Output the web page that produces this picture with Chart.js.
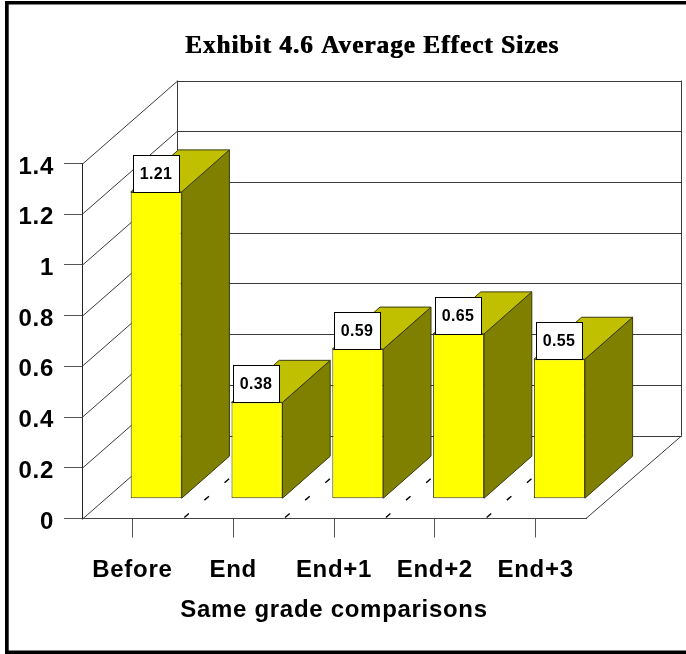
<!DOCTYPE html>
<html>
<head>
<meta charset="utf-8">
<style>html,body{margin:0;padding:0;background:#fff}#w{position:relative;width:686px;height:654px}</style>
<script src="https://cdn.jsdelivr.net/npm/chart.js@4"></script>
</head>
<body>
<div id="w"><canvas id="c"></canvas></div>
<script>
const categories = ['Before', 'End', 'End+1', 'End+2', 'End+3'];
const effectSizes = [1.21, 0.38, 0.59, 0.65, 0.55];
const valueLabels = ['1.21', '0.38', '0.59', '0.65', '0.55'];
const yTickLabels = ['0', '0.2', '0.4', '0.6', '0.8', '1', '1.2', '1.4'];
const chartTitle = 'Exhibit 4.6 Average Effect Sizes';
const xAxisTitle = 'Same grade comparisons';

const WALL = {dx: 96, dy: -83};
const BAR_SHIFT = {dx: 23.8, dy: -19.8};
const BAR_DEPTH = {dx: 47.7, dy: -42};
const SANS = '"Liberation Sans", Arial, sans-serif';

function seg(ctx, x1, y1, x2, y2) { ctx.beginPath(); ctx.moveTo(x1, y1); ctx.lineTo(x2, y2); ctx.stroke(); }
function poly(ctx, pts, fill, stroke) {
  ctx.beginPath(); pts.forEach((p, i) => i ? ctx.lineTo(p[0], p[1]) : ctx.moveTo(p[0], p[1])); ctx.closePath();
  ctx.fillStyle = fill; ctx.fill(); ctx.strokeStyle = stroke; ctx.lineWidth = 1; ctx.stroke();
}

const frame = {
  id: 'frame',
  beforeDraw(chart) {
    const c = chart.ctx; c.save(); c.fillStyle = '#000';
    c.fillRect(5, 1, chart.width - 5, 3.5);
    c.fillRect(5, 1, 3.7, chart.height - 1);
    c.fillRect(5, 650.5, chart.width - 5, 3.5);
    c.restore();
    c.letterSpacing = '0.7px';
  }
};

const box3d = {
  id: 'box3d',
  afterLayout(chart) {
    const tb = chart.titleBlock;
    tb.left += 79; tb.right += 79;
    if (!tb._wrapped) {
      const orig = tb.draw.bind(tb);
      tb.draw = function () {
        const c = chart.ctx; c.save();
        c.letterSpacing = '1.1px';
        c.shadowColor = '#000'; c.shadowOffsetX = 0.8; c.shadowBlur = 0;
        orig(); c.restore();
      };
      tb._wrapped = true;
    }
  },
  beforeDatasetsDraw(chart) {
    const c = chart.ctx, y = chart.scales.y, x = chart.scales.x;
    const L = x.left, R = x.right, y0 = y.getPixelForValue(0);
    c.save();
    c.lineWidth = 1; c.strokeStyle = '#3a3a3a';
    y.ticks.forEach(t => {
      const p = Math.round(y.getPixelForValue(t.value)) + 0.5;
      seg(c, L, p, L + WALL.dx - 1, p + WALL.dy);
      seg(c, L + WALL.dx - 1, p + WALL.dy, R + WALL.dx, p + WALL.dy);
    });
    const topY = y.getPixelForValue(1.4);
    seg(c, L + WALL.dx - .5, topY + WALL.dy, L + WALL.dx - .5, y0 + WALL.dy);
    seg(c, R + WALL.dx - .5, topY + WALL.dy, R + WALL.dx - .5, y0 + WALL.dy);
    seg(c, R, y0, R + WALL.dx, y0 + WALL.dy);
    c.strokeStyle = '#000'; c.lineWidth = 1.4; c.setLineDash([6, 20.6]);
    for (let i = 1; i < categories.length; i++) {
      const bx = (x.getPixelForTick(i - 1) + x.getPixelForTick(i)) / 2 + 1.5;
      seg(c, bx, y0 - 1, bx + WALL.dx, y0 - 1 + WALL.dy);
    }
    c.setLineDash([]);
    chart.getDatasetMeta(0).data.forEach(b => {
      const l = b.x - b.width / 2 + BAR_SHIFT.dx, r = b.x + b.width / 2 + BAR_SHIFT.dx;
      const t = b.y + BAR_SHIFT.dy, f = b.base + BAR_SHIFT.dy, d = BAR_DEPTH;
      poly(c, [[r, t], [r + d.dx, t + d.dy], [r + d.dx, f + d.dy], [r, f]], '#808000', '#3a3a10');
      poly(c, [[l, t], [l + d.dx, t + d.dy], [r + d.dx, t + d.dy], [r, t]], '#c0c000', '#3a3a10');
    });
    c.restore();
    c.save();
    c.translate(BAR_SHIFT.dx, BAR_SHIFT.dy);
  },
  afterDatasetsDraw(chart) {
    const c = chart.ctx;
    c.restore();
    c.save();
    chart.getDatasetMeta(0).data.forEach((b, i) => {
      const l = Math.round(b.x - b.width / 2 + BAR_SHIFT.dx + 2) + .5;
      const bot = Math.round(b.y + BAR_SHIFT.dy) + .5;
      c.fillStyle = '#fff'; c.strokeStyle = '#000'; c.lineWidth = 1;
      c.fillRect(l, bot - 37, 46, 37); c.strokeRect(l, bot - 37, 46, 37);
      c.fillStyle = '#000'; c.font = 'bold 16px ' + SANS;
      c.letterSpacing = '0.3px';
      c.textAlign = 'center'; c.textBaseline = 'middle';
      c.fillText(valueLabels[i], l + 22.5, bot - 18);
    });
    c.restore();
  }
};

new Chart(document.getElementById('c'), {
  type: 'bar',
  data: {
    labels: categories,
    datasets: [{
      data: effectSizes,
      backgroundColor: '#ffff00',
      borderColor: '#3a3a10',
      borderWidth: 1,
      borderSkipped: false,
      barPercentage: 0.506,
      categoryPercentage: 1,
      clip: false
    }]
  },
  options: {
    responsive: true,
    maintainAspectRatio: false,
    animation: false,
    layout: {padding: {left: 0, right: 100, top: 0, bottom: 0}},
    plugins: {
      legend: {display: false},
      tooltip: {enabled: false},
      title: {
        display: true,
        text: chartTitle,
        color: '#000',
        font: {family: '"Liberation Serif", "Times New Roman", serif', size: 25, weight: 'bold', lineHeight: 1.2},
        padding: {top: 32, bottom: 101.5}
      }
    },
    scales: {
      x: {
        afterFit: s => { s.height = 135.5; },
        grid: {drawOnChartArea: false, drawTicks: true, tickLength: 19, offset: false, color: '#555'},
        border: {display: true, color: '#444'},
        ticks: {
          color: '#000', autoSkip: false, maxRotation: 0, padding: 18,
          font: {family: SANS, size: 24, weight: 'bold'}
        },
        title: {
          display: true, text: xAxisTitle, color: '#000',
          font: {family: SANS, size: 24, weight: 'bold'},
          padding: {top: 0, bottom: 29}
        }
      },
      y: {
        min: 0, max: 1.4,
        afterFit: s => { s.width = 82; },
        grid: {drawOnChartArea: false, drawTicks: true, tickLength: 18, color: '#555'},
        border: {display: true, color: '#222'},
        ticks: {
          stepSize: 0.2, color: '#000', padding: 10, labelOffset: 3.5,
          font: {family: SANS, size: 24, weight: 'bold'},
          callback: (v, i) => yTickLabels[i]
        }
      }
    }
  },
  plugins: [frame, box3d]
});
</script>
</body>
</html>
